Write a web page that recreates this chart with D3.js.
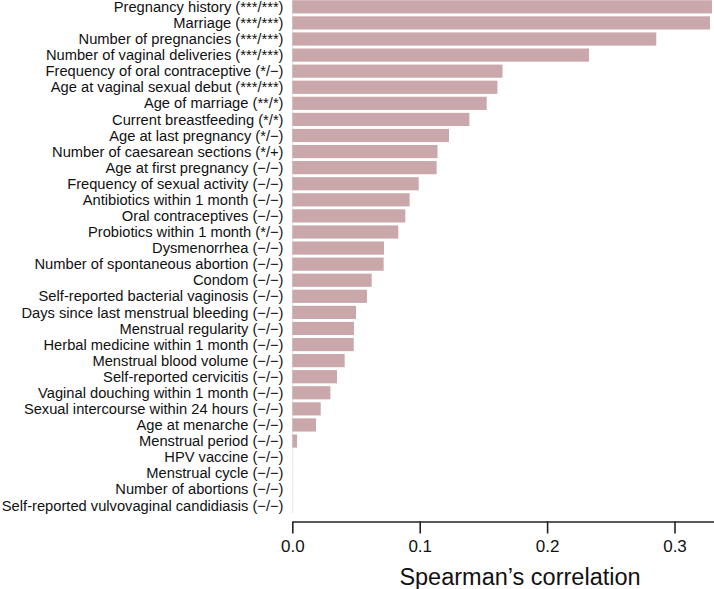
<!DOCTYPE html>
<html><head><meta charset="utf-8">
<script src="https://cdn.jsdelivr.net/npm/d3@7"></script>
<style>body{margin:0;background:#fff;} text{font-family:"Liberation Sans",Arial,sans-serif;}</style>
</head><body>
<svg id="c" width="714" height="589"></svg>
<script>
const categories = [
"Pregnancy history (***/***)","Marriage (***/***)","Number of pregnancies (***/***)","Number of vaginal deliveries (***/***)",
"Frequency of oral contraceptive (*/−)","Age at vaginal sexual debut (***/***)","Age of marriage (**/*)","Current breastfeeding (*/*)",
"Age at last pregnancy (*/−)","Number of caesarean sections (*/+)","Age at first pregnancy (−/−)","Frequency of sexual activity (−/−)",
"Antibiotics within 1 month (−/−)","Oral contraceptives (−/−)","Probiotics within 1 month (*/−)","Dysmenorrhea (−/−)",
"Number of spontaneous abortion (−/−)","Condom (−/−)","Self-reported bacterial vaginosis (−/−)","Days since last menstrual bleeding (−/−)",
"Menstrual regularity (−/−)","Herbal medicine within 1 month (−/−)","Menstrual blood volume (−/−)","Self-reported cervicitis (−/−)",
"Vaginal douching within 1 month (−/−)","Sexual intercourse within 24 hours (−/−)","Age at menarche (−/−)","Menstrual period (−/−)",
"HPV vaccine (−/−)","Menstrual cycle (−/−)","Number of abortions (−/−)","Self-reported vulvovaginal candidiasis (−/−)"];
const values = [0.3294,0.3279,0.2857,0.2329,0.165,0.161,0.1526,0.139,0.123,0.114,0.1133,0.0992,
0.0921,0.0887,0.0832,0.072,0.0717,0.0623,0.0586,0.05,0.0484,0.0482,0.0411,0.0351,0.0299,0.0223,0.0186,0.0037,0,0,0,0];
const xTicks = [0,0.1,0.2,0.3];
const xTickLabels = ["0.0","0.1","0.2","0.3"];

const svg = d3.select("#c");
const x = d3.scaleLinear().domain([0,0.331]).range([292.3,714]);
const y = d3.scaleBand().domain(categories).range([-1.2,513.4]).paddingInner(0.18).paddingOuter(0.09);

svg.append("line").attr("x1",x(0)+0.5).attr("x2",x(0)+0.5).attr("y1",0).attr("y2",513)
  .attr("stroke","#e4e4e4").attr("stroke-width",1);

svg.selectAll("rect.bar").data(categories).join("rect").attr("class","bar")
  .attr("x",x(0)).attr("y",d=>y(d)).attr("height",y.bandwidth())
  .attr("width",(d,i)=>x(values[i])-x(0)).attr("fill","#c9a7aa");

svg.selectAll("text.lab").data(categories).join("text").attr("class","lab")
  .attr("x",283.5).attr("y",d=>y(d)+y.bandwidth()/2).attr("dy","0.35em")
  .attr("text-anchor","end").attr("font-size","14.7px").attr("fill","#111").text(d=>d);

const ax = svg.append("g").attr("transform","translate(0,521.5)")
  .call(d3.axisBottom(x).tickValues(xTicks).tickFormat((d,i)=>xTickLabels[i]).tickSize(12).tickSizeOuter(0).tickPadding(6));
ax.select(".domain").attr("stroke","#222").attr("stroke-width",1.6);
ax.selectAll(".tick line").attr("stroke","#222").attr("stroke-width",1.6);
ax.selectAll(".tick text").attr("font-size","17px").attr("fill","#111").attr("font-family","Liberation Sans, Arial, sans-serif");

svg.append("text").attr("x",520).attr("y",585).attr("text-anchor","middle")
  .attr("font-size","23.5px").attr("fill","#111").text("Spearman’s correlation");
</script>
</body></html>
